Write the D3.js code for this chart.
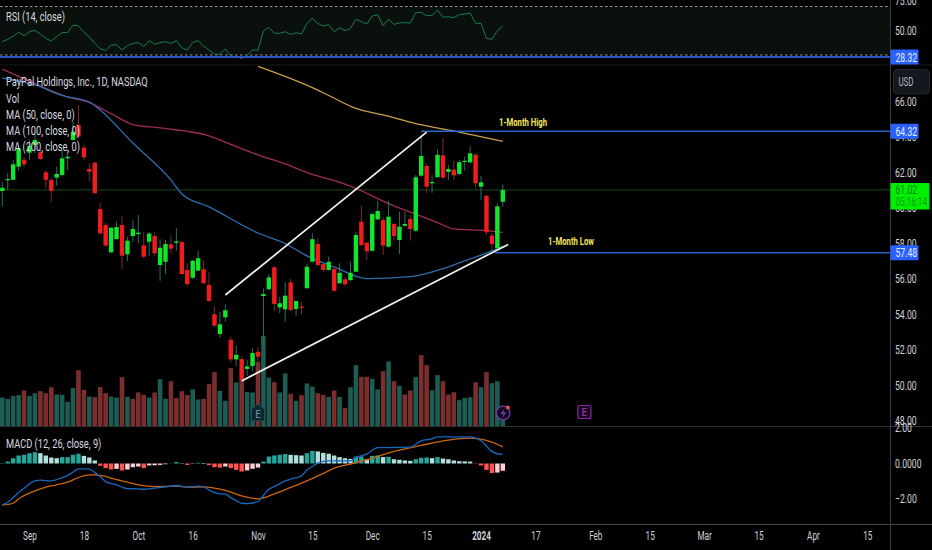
<!DOCTYPE html>
<html><head><meta charset="utf-8">
<script src="https://cdn.jsdelivr.net/npm/d3@7"></script>
<style>
html,body{margin:0;padding:0;background:#000;overflow:hidden}
svg{display:block}
text{font-family:"Roboto","Liberation Sans",sans-serif}
</style></head><body><svg id="c" width="932" height="550"></svg>
<script>
const opens=[60.96,61.56,61.59,62.33,62.72,63.12,63.55,63.14,62.01,61.58,61.71,61.86,62.80,63.83,64.68,63.40,62.20,62.55,59.94,59.04,57.50,58.25,59.04,57.39,58.42,58.53,57.90,58.10,58.42,56.79,56.97,57.95,58.04,58.08,56.51,56.07,56.47,56.55,55.66,54.01,52.90,53.84,52.58,51.47,51.49,50.93,51.10,51.90,55.04,55.42,56.66,54.40,54.29,55.81,54.31,54.44,55.48,56.97,57.97,56.84,56.51,56.56,55.76,55.98,55.94,56.41,59.23,58.04,57.59,59.36,59.32,57.82,59.10,58.20,59.00,59.38,58.72,61.82,62.37,61.39,61.73,62.97,62.03,62.16,61.92,62.59,62.57,63.00,61.20,60.69,58.44,57.73,60.35];
const highs=[61.46,61.97,62.70,63.55,62.87,63.83,64.22,63.27,62.14,61.69,62.33,63.27,63.27,64.84,65.80,63.55,62.53,62.59,60.30,59.17,58.93,59.23,59.55,58.38,59.32,59.61,58.66,58.66,58.66,58.24,58.20,58.48,58.86,58.14,56.88,57.07,57.58,57.07,56.41,54.48,54.14,54.58,52.75,52.24,51.62,51.44,52.10,52.18,55.47,56.28,56.73,55.00,55.81,56.00,54.76,54.72,56.84,58.57,58.29,56.88,57.26,56.73,56.88,56.09,56.97,58.66,60.13,58.10,59.73,60.41,59.48,60.41,59.17,59.79,59.79,59.61,61.86,64.02,62.52,61.86,63.32,63.93,62.42,62.66,62.70,62.89,63.49,63.08,61.80,60.73,58.58,60.26,61.33];
const lows=[60.07,61.01,61.58,62.08,62.31,62.70,63.10,62.70,61.13,60.34,61.26,61.80,62.14,63.83,63.95,62.70,61.52,60.79,58.53,57.82,57.49,58.23,56.56,57.01,58.10,58.01,57.17,57.29,57.29,55.89,56.28,57.45,57.59,56.24,55.57,56.00,56.45,55.72,54.74,53.31,52.69,53.59,51.28,51.10,50.21,50.54,50.83,51.34,52.28,55.38,54.21,54.07,53.59,54.21,53.93,54.03,55.46,56.96,56.73,56.41,56.47,55.28,55.72,55.57,55.85,56.39,57.88,57.07,57.56,59.32,57.35,57.78,58.16,57.41,58.95,58.16,58.63,61.76,60.86,60.86,61.73,61.67,61.58,61.58,61.86,62.10,62.52,61.11,60.45,58.48,57.63,57.73,60.07];
const closes=[61.14,61.63,62.46,63.36,62.46,63.51,63.83,62.76,61.59,60.96,61.92,62.80,62.89,64.30,64.02,62.86,62.04,60.84,58.57,57.88,58.89,58.93,57.31,58.16,58.82,58.61,57.26,58.56,57.45,57.76,57.97,57.71,58.12,56.28,55.72,57.03,57.17,55.76,54.76,53.37,53.45,54.24,51.47,51.73,50.31,51.08,51.83,51.62,55.15,56.09,54.59,54.63,55.06,54.25,54.76,54.38,56.69,58.24,56.79,56.51,56.97,55.34,56.35,55.70,56.35,58.48,57.91,57.56,59.66,59.83,57.88,59.51,58.42,58.95,59.10,58.82,61.73,62.93,61.20,61.46,63.00,61.71,62.20,61.84,62.58,62.66,63.08,61.39,61.45,58.63,57.97,60.09,61.02];
const volumes=[8.7,8.3,9.2,9.4,10.8,9.2,10.0,10.6,10.0,11.8,9.6,9.5,7.4,11.5,16.9,11.0,9.0,8.8,11.8,10.0,9.0,8.7,14.8,8.9,8.3,10.2,9.5,8.7,10.2,14.2,8.3,13.6,8.5,10.6,9.5,11.1,8.1,8.3,12.7,16.3,10.7,7.7,17.5,13.2,14.2,10.3,10.2,19.4,27.2,14.7,13.3,10.2,15.9,9.8,7.7,9.4,12.9,12.0,10.0,9.5,8.9,10.8,8.9,5.5,11.8,18.4,14.9,14.9,14.3,11.1,16.6,19.5,13.6,12.2,9.6,10.8,14.8,21.4,18.4,10.9,15.4,13.6,9.6,10.3,7.9,8.6,8.8,13.3,11.8,16.3,13.0,13.6,3.5];
const volumeFlip=[16,24,25,32,74,77,82,90];
const ma200Idx=[47,57,60,65,70,76,84,92];
const ma200Val=[67.98,66.78,66.34,65.61,65.24,64.76,64.28,63.76];
const ma100Idx=[0,6,12,16,20,24,29,38,42,47,52,57,61,65,71,76,80,83,89,92];
const ma100Val=[67.83,67.01,66.25,65.94,65.32,64.70,64.51,64.06,63.58,62.99,62.48,61.89,61.55,61.10,60.25,59.66,59.18,58.82,58.73,58.63];
const ma50Idx=[0,6,11,16,18,24,31,33,38,47,52,56,61,67,75,81,85,90,92];
const ma50Val=[67.32,66.93,66.34,65.97,65.52,63.66,61.58,60.79,60.06,58.59,58.0,57.30,56.68,56.02,56.13,56.58,57.02,57.58,57.86];
const rsi=[41.0,42.9,45.7,48.7,45.9,49.2,50.3,47.3,43.7,41.5,45.1,48.4,48.7,54.7,53.9,48.7,45.1,39.6,35.2,33.6,38.2,38.5,34.1,37.7,39.6,40.2,36.9,41.8,38.8,40.2,41.0,39.6,41.8,36.0,34.1,40.4,41.8,37.4,34.1,30.6,30.6,35.0,29.2,28.6,27.0,30.0,34.1,34.1,49.8,52.8,47.9,47.9,49.2,46.8,48.4,47.3,56.1,60.2,56.1,53.9,55.0,49.2,52.3,50.1,52.0,59.4,57.5,55.6,62.2,63.0,54.2,59.4,55.3,56.4,56.7,56.4,64.9,65.2,62.4,62.7,67.1,61.1,61.6,60.8,63.3,63.8,64.6,56.1,56.1,43.7,42.9,50.1,53.9];
const hist=[0.02,0.11,0.30,0.45,0.49,0.58,0.64,0.58,0.45,0.34,0.30,0.36,0.36,0.49,0.55,0.43,0.34,0.17,-0.13,-0.26,-0.34,-0.30,-0.39,-0.34,-0.21,-0.17,-0.26,-0.11,-0.10,-0.08,-0.04,0.01,0.08,0.02,-0.08,-0.02,0.04,0.03,-0.09,-0.21,-0.23,-0.17,-0.26,-0.36,-0.45,-0.39,-0.30,-0.23,0.11,0.39,0.45,0.49,0.53,0.49,0.47,0.45,0.58,0.71,0.68,0.60,0.55,0.45,0.36,0.30,0.26,0.39,0.40,0.24,0.43,0.45,0.36,0.38,0.24,0.21,0.17,0.15,0.24,0.32,0.34,0.30,0.36,0.28,0.24,0.17,0.13,0.12,0.11,-0.02,-0.11,-0.36,-0.54,-0.51,-0.41];
const macdIdx=[0,1,2,3,4,6,7,9,11,12,13,14,15,16,17,18,19,20,21,22,23,25,26,28,30,32,34,36,37,38,39,40,41,42,43,44,45,47,48,49,50,52,53,55,56,57,58,60,62,64,65,67,69,71,75,77,79,80,83,86,88,90,91,92];
const macdVal=[-2.33,-2.18,-1.92,-1.64,-1.39,-0.98,-0.94,-0.98,-0.79,-0.68,-0.49,-0.30,-0.30,-0.32,-0.51,-0.73,-1.02,-1.13,-1.20,-1.33,-1.41,-1.43,-1.45,-1.39,-1.32,-1.24,-1.33,-1.28,-1.32,-1.49,-1.64,-1.71,-1.73,-1.92,-2.09,-2.24,-2.26,-2.14,-1.80,-1.45,-1.30,-0.98,-0.88,-0.70,-0.36,-0.17,0.02,0.15,0.15,0.15,0.34,0.53,0.90,0.90,0.92,1.28,1.39,1.50,1.49,1.50,1.28,0.68,0.55,0.53];
const signalIdx=[0,2,3,6,8,10,12,14,16,17,19,20,23,25,28,32,34,37,41,44,47,50,53,56,59,61,64,68,72,77,82,86,89,92];
const signalVal=[-2.35,-2.24,-1.99,-1.54,-1.33,-1.20,-1.05,-0.79,-0.64,-0.64,-0.73,-0.83,-1.05,-1.20,-1.30,-1.28,-1.33,-1.32,-1.52,-1.82,-1.99,-1.71,-1.35,-0.98,-0.56,-0.26,-0.04,0.30,0.68,1.02,1.32,1.43,1.30,0.94];
const dateTickIdx=[5,15,25,35,47,57,68,78,88,98,109,119,129,139,149,159];
const dateTickLab=["Sep","18","Oct","16","Nov","15","Dec","15","2024","17","Feb","15","Mar","15","Apr","15"];
const priceTicks=[66,64,62,60,58,56,54,52,50,48];
const rsiTicks=[75,50];
const macdTicks=[2,0,-2];
const trendUpper=[[41.0,55.1],[78.0,64.27]];
const trendLower=[[44.0,50.26],[93.0,57.95]];
const monthHigh=64.32, monthLow=57.48, lastPrice=61.02, rsiLow=28.32;
const highStartIdx=77, lowStartIdx=90.5;
const earningsIdx=[47,107];

const axisX=890.5, W=932;
const svg=d3.select("#c");
const x=d3.scaleLinear().domain([0,159]).range([2.3,867.3]);
const yP=d3.scaleLinear().domain([66,48]).range([101.5,421]);
const yV=d3.scaleLinear().domain([0,30]).range([426.5,326.5]);
const yR=d3.scaleLinear().domain([70,30]).range([6.5,55]);
const yM=d3.scaleLinear().domain([2,-2]).range([428,499]);
const idx=d3.range(opens.length);
const UP="#12e62c", DOWN="#f01c1e", WUP="#2a6f5e", WDN="#7c2c2c";
const condense=(sel,k)=>sel.each(function(){const n=this;const w=n.getComputedTextLength();n.setAttribute("textLength",(w*k).toFixed(1));n.setAttribute("lengthAdjust","spacingAndGlyphs");});

svg.append("rect").attr("width",932).attr("height",550).attr("fill","#000");

const clipId=(n,y0,y1)=>{svg.append("clipPath").attr("id",n).append("rect").attr("x",0).attr("y",y0).attr("width",axisX).attr("height",y1-y0);};
clipId("cr",0,64.5); clipId("cp",65.5,426); clipId("cm",427,524);
const gR=svg.append("g").attr("clip-path","url(#cr)");
gR.append("rect").attr("x",0).attr("y",yR(70)).attr("width",axisX).attr("height",yR(30)-yR(70)).attr("fill","#0a100b");
[70,30].forEach(v=>gR.append("line").attr("x1",0).attr("x2",axisX).attr("y1",yR(v)).attr("y2",yR(v)).attr("stroke","#9a9a9a").attr("stroke-dasharray","2.5 2.5"));
gR.append("path").attr("d",d3.line().x((d,i)=>x(i)).y(d=>yR(d))(rsi)).attr("fill","none").attr("stroke","#1a7a62").attr("stroke-width",1);
gR.append("line").attr("x1",0).attr("x2",axisX).attr("y1",yR(rsiLow)).attr("y2",yR(rsiLow)).attr("stroke","#2a55c4").attr("stroke-width",2);

const gP=svg.append("g").attr("clip-path","url(#cp)");
gP.append("line").attr("x1",0).attr("x2",axisX).attr("y1",yP(lastPrice)).attr("y2",yP(lastPrice)).attr("stroke","#124a18").attr("stroke-width",1);
const isUp=i=>closes[i]>=opens[i];
const volUp=i=>volumeFlip.includes(i)?!isUp(i):isUp(i);
gP.selectAll("rect.v").data(idx).join("rect").attr("class","v")
  .attr("x",i=>x(i)-2.3).attr("width",4.6).attr("y",i=>yV(volumes[i])).attr("height",i=>yV(0)-yV(volumes[i]))
  .attr("fill",i=>volUp(i)?"#1d5c52":"#7a2e2e");
const ln=(xs,vs)=>d3.line().curve(d3.curveMonotoneX).x((d,i)=>x(xs[i])).y(d=>yP(d))(vs);
gP.append("path").attr("d",ln(ma200Idx,ma200Val)).attr("fill","none").attr("stroke","#c9a04a").attr("stroke-width",1.3);
gP.append("path").attr("d",ln(ma100Idx,ma100Val)).attr("fill","none").attr("stroke","#a02c50").attr("stroke-width",1.3);
gP.append("path").attr("d",ln(ma50Idx,ma50Val)).attr("fill","none").attr("stroke","#2a6fb0").attr("stroke-width",1.3);
gP.selectAll("line.w").data(idx).join("line").attr("class","w")
  .attr("x1",i=>x(i)).attr("x2",i=>x(i)).attr("y1",i=>yP(highs[i])).attr("y2",i=>yP(lows[i]))
  .attr("stroke",i=>isUp(i)?WUP:WDN).attr("stroke-width",1);
gP.selectAll("rect.b").data(idx).join("rect").attr("class","b")
  .attr("x",i=>x(i)-2.2).attr("width",4.4)
  .attr("y",i=>yP(Math.max(opens[i],closes[i])))
  .attr("height",i=>Math.max(1.2,Math.abs(yP(opens[i])-yP(closes[i]))))
  .attr("fill",i=>isUp(i)?UP:DOWN);
[trendUpper,trendLower].forEach(t=>gP.append("line").attr("x1",x(t[0][0])).attr("y1",yP(t[0][1])).attr("x2",x(t[1][0])).attr("y2",yP(t[1][1])).attr("stroke","#f2f2f2").attr("stroke-width",1.7));
gP.append("line").attr("x1",x(highStartIdx)).attr("x2",axisX).attr("y1",yP(monthHigh)).attr("y2",yP(monthHigh)).attr("stroke","#2f62d0").attr("stroke-width",1.4);
gP.append("line").attr("x1",x(lowStartIdx)).attr("x2",axisX).attr("y1",yP(monthLow)).attr("y2",yP(monthLow)).attr("stroke","#2f62d0").attr("stroke-width",1.4);
const lab=(t,xx,yy)=>condense(svg.append("text").attr("x",xx).attr("y",yy).attr("text-anchor","middle").attr("dominant-baseline","central").attr("fill","#f3e65e").attr("font-size",11).attr("font-weight",700).text(t),0.7);
lab("1-Month High",523,122);
lab("1-Month Low",571,241);

const e1=x(earningsIdx[0]), e2=x(earningsIdx[1]);
svg.append("path").attr("d",`M${e1} 404 l6.5 5 v12 h-13 v-12 z`).attr("fill","#0e2630").attr("stroke","#20505c").attr("stroke-width",1);
svg.append("text").attr("x",e1).attr("y",414).attr("text-anchor","middle").attr("dominant-baseline","central").attr("fill","#6a99a8").attr("font-size",10).text("E");
svg.append("rect").attr("x",e2-6.5).attr("y",405.5).attr("width",13).attr("height",13).attr("rx",2).attr("fill","#160a1e").attr("stroke","#8e24aa").attr("stroke-width",1.2);
svg.append("text").attr("x",e2).attr("y",412.2).attr("text-anchor","middle").attr("dominant-baseline","central").attr("fill","#a63cc8").attr("font-size",10).text("E");
const bx=x(92)+0.3;
svg.append("circle").attr("cx",bx).attr("cy",413).attr("r",6.8).attr("fill","#120a1c").attr("stroke","#6f3aa8").attr("stroke-width",1.3);
svg.append("path").attr("d",`M${bx+1.5} 408 l-4 6 h3 l-1.5 4.5 l4 -6 h-3 z`).attr("fill","#7a45b8");
svg.append("circle").attr("cx",bx+4.8).attr("cy",407.5).attr("r",1.9).attr("fill","#ef5350");

const gM=svg.append("g").attr("clip-path","url(#cm)");
const hc=(v,i)=>{const p=i?hist[i-1]:0;return v>=0?(v>=p?"#26a69a":"#b2dfdb"):(v<p?"#ff5252":"#ffcdd2");};
gM.selectAll("rect.h").data(hist).join("rect").attr("class","h")
  .attr("x",(d,i)=>x(i)-2.2).attr("width",4.4)
  .attr("y",d=>Math.min(yM(d),yM(0))).attr("height",d=>Math.abs(yM(d)-yM(0)))
  .attr("fill",hc);
const lm=(xs,vs)=>d3.line().curve(d3.curveMonotoneX).x((d,i)=>x(xs[i])).y(d=>yM(d))(vs);
gM.append("path").attr("d",lm(signalIdx,signalVal)).attr("fill","none").attr("stroke","#c9660f").attr("stroke-width",1.3);
gM.append("path").attr("d",lm(macdIdx,macdVal)).attr("fill","none").attr("stroke","#1668c0").attr("stroke-width",1.3);

const sep=(y,c,x2=W)=>svg.append("line").attr("x1",0).attr("x2",x2).attr("y1",y).attr("y2",y).attr("stroke",c).attr("stroke-width",1);
sep(65,"#1d1d1f"); sep(426.5,"#333336"); sep(524.5,"#48484c");
svg.append("line").attr("x1",axisX).attr("x2",axisX).attr("y1",0).attr("y2",550).attr("stroke","#3a3a3e");

const ax=(sc,vals,fmt)=>{
  const g=svg.append("g").attr("transform",`translate(${axisX},0)`).call(d3.axisRight(sc).tickValues(vals).tickFormat(fmt).tickSize(0).tickPadding(4.5));
  g.select(".domain").remove();
  g.selectAll("text").attr("fill","#d1d4dc").attr("font-size",12);
  condense(g.selectAll("text"),0.72);
};
ax(yR,rsiTicks,d3.format(".2f"));
ax(yP,priceTicks,d3.format(".2f"));
ax(yM,macdTicks,v=>v===0?"0.0000":(v<0?"\u2212":"")+Math.abs(v).toFixed(2));
const gx=svg.append("g").attr("transform","translate(0,530)").call(d3.axisBottom(x).tickValues(dateTickIdx).tickFormat((d,i)=>dateTickLab[i]).tickSize(0).tickPadding(1));
gx.select(".domain").remove();
gx.selectAll("text").attr("fill","#d1d4dc").attr("font-size",12).attr("font-weight",(d,i)=>dateTickLab[i]==="2024"?700:400);
condense(gx.selectAll("text"),0.68);

const box=(v,sc,txt,col="#2962ff")=>{
  const y=sc(v);
  svg.append("rect").attr("x",axisX).attr("y",y-7.5).attr("width",28).attr("height",15).attr("rx",1).attr("fill",col);
  condense(svg.append("text").attr("x",axisX+5).attr("y",y+0.5).attr("dominant-baseline","central").attr("fill","#e8ecff").attr("font-size",12).text(txt),0.72);
};
box(rsiLow,yR,rsiLow.toFixed(2));
box(monthHigh,yP,monthHigh.toFixed(2));
box(monthLow,yP,monthLow.toFixed(2));
const ly=yP(lastPrice);
svg.append("rect").attr("x",axisX).attr("y",ly-7).attr("width",39).attr("height",26.5).attr("rx",1).attr("fill","#00ee00");
condense(svg.append("text").attr("x",axisX+5).attr("y",ly+0.5).attr("dominant-baseline","central").attr("fill","#0b7a12").attr("font-size",12).text(lastPrice.toFixed(2)),0.72);
condense(svg.append("text").attr("x",axisX+5).attr("y",ly+12.5).attr("dominant-baseline","central").attr("fill","#0b9a12").attr("font-size",12).text("05:16:14"),0.68);
svg.append("rect").attr("x",893.5).attr("y",69.5).attr("width",36).attr("height",24.5).attr("rx",4).attr("fill","#14171d").attr("stroke","#24272e");
condense(svg.append("text").attr("x",906).attr("y",82).attr("text-anchor","middle").attr("dominant-baseline","central").attr("fill","#b2b5be").attr("font-size",12).text("USD"),0.66);

const leg=(t,y)=>condense(svg.append("text").attr("x",6).attr("y",y).attr("dominant-baseline","central").attr("fill","#d8dae0").attr("font-size",12.5).text(t),0.74);
leg("RSI (14, close)",16);
leg("PayPal Holdings, Inc., 1D, NASDAQ",81.5);
leg("Vol",98);
leg("MA (50, close, 0)",114);
leg("MA (100, close, 0)",130);
leg("MA (200, close, 0)",146);
leg("MACD (12, 26, close, 9)",443);
</script></body></html>
